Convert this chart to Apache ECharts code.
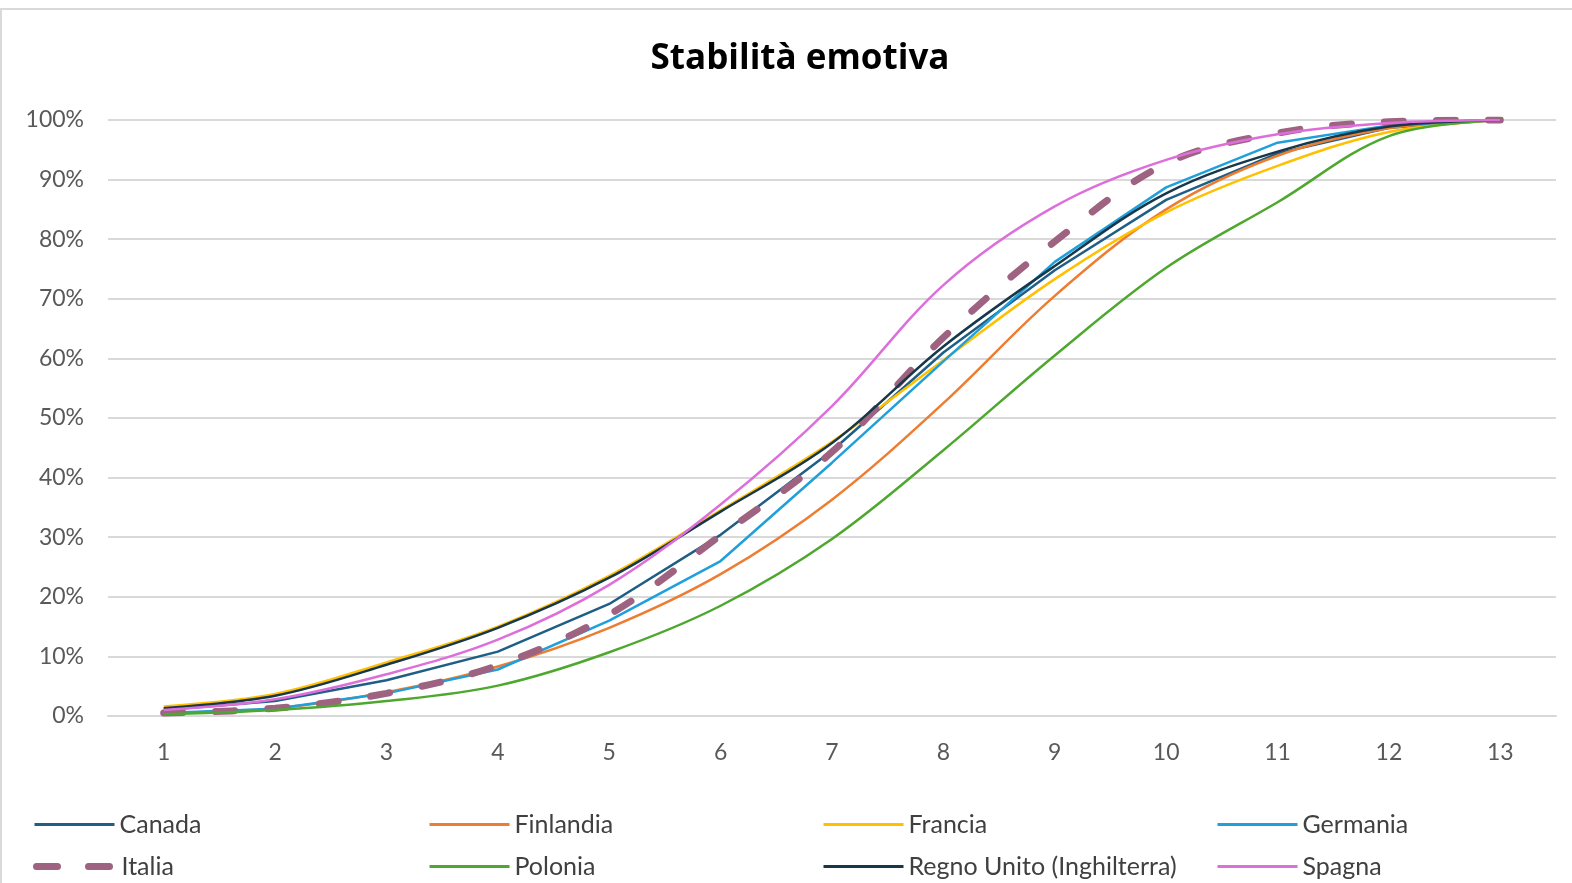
<!DOCTYPE html>
<html>
<head>
<meta charset="utf-8">
<script src="https://cdn.jsdelivr.net/npm/echarts@6/dist/echarts.min.js"></script>
<style>
html,body{margin:0;padding:0;background:#fff;}
#c{width:1572px;height:883px;}
</style>
</head>
<body>
<div id="c"></div>
<script>
const categories = ['1','2','3','4','5','6','7','8','9','10','11','12','13'];
const canada    = [1.0, 2.5, 6.0, 10.8, 18.8, 30.4, 44.5, 61.0, 74.8, 86.6, 94.4, 98.7, 100];
const finlandia = [0.5, 1.3, 4.0, 8.3, 14.8, 23.8, 36.3, 52.5, 70.5, 85.0, 94.0, 98.6, 100];
const francia   = [1.6, 3.7, 9.0, 15.0, 23.5, 34.5, 46.0, 59.7, 73.3, 84.5, 92.3, 98.0, 100];
const germania  = [0.5, 1.2, 3.8, 7.8, 16.0, 26.0, 42.5, 59.5, 76.2, 88.7, 96.2, 99.1, 100];
const italia    = [0.5, 1.3, 3.8, 8.5, 17.0, 30.3, 44.3, 63.5, 79.6, 92.7, 97.8, 99.7, 100];
const polonia   = [0.3, 1.0, 2.5, 5.1, 10.7, 18.5, 29.7, 44.6, 60.5, 75.2, 86.2, 97.3, 100];
const regnoUnito= [1.3, 3.4, 8.6, 14.8, 23.2, 34.3, 45.8, 62.0, 75.5, 87.7, 94.7, 98.9, 100];
const spagna    = [1.0, 2.8, 7.0, 12.8, 22.0, 35.5, 52.0, 72.3, 85.5, 93.3, 97.6, 99.5, 100];

const names = ['Canada','Finlandia','Francia','Germania','Italia','Polonia','Regno Unito (Inghilterra)','Spagna'];
const values = [canada, finlandia, francia, germania, italia, polonia, regnoUnito, spagna];
const colors = ['#1F5F85','#ED7D31','#FFC000','#1FA0DA','#9E6381','#4EA72E','#17374B','#DD6FDB'];
const smoothFlags = [false, true, true, false, true, true, true, true];

const FONT = 'Lato';
const legendPos = [[33,812],[428,812],[822,812],[1216,812],[33,854],[428,854],[822,854],[1216,854]];

const series = names.map((n,i)=>({
  name:n,
  type:'line',
  data:values[i],
  smooth: smoothFlags[i] ? 0.35 : false,
  symbol:'none',
  z: 2 + i,
  lineStyle: i===4
    ? {color:colors[i], width:7, type:[19,33], cap:'round'}
    : {color:colors[i], width:2.5},
  itemStyle:{color:colors[i]}
}));

const legends = names.map((n,i)=>({
  data:[n],
  left:legendPos[i][0],
  top:legendPos[i][1],
  padding:0,
  itemWidth:80,
  itemHeight:14,
  itemGap:0,
  itemStyle:{opacity:0},
  lineStyle: i===4
    ? {width:7, type:[21,31], cap:'round', color:colors[i]}
    : {width:3, color:colors[i]},
  textStyle:{fontFamily:FONT, fontSize:25, color:'#404040'}
}));

const chart = echarts.init(document.getElementById('c'));
chart.setOption({
  animation:false,
  backgroundColor:'#fff',
  color:colors,
  title:{
    text:'Stabilità emotiva',
    left:795,
    textAlign:'center',
    top:37,
    textStyle:{fontFamily:'Open Sans', fontSize:35, fontWeight:'bold', color:'#000'}
  },
  graphic:[{
    type:'rect',
    shape:{x:1,y:9,width:1600,height:900},
    style:{fill:null, stroke:'#d9d9d9', lineWidth:2},
    silent:true, z:-1
  }],
  legend:legends,
  grid:{left:108, right:16, top:120, bottom:167, containLabel:false},
  xAxis:{
    type:'category',
    data:categories,
    boundaryGap:true,
    axisLine:{show:true, lineStyle:{color:'#d9d9d9', width:2}},
    axisTick:{show:false},
    axisLabel:{fontFamily:FONT, fontSize:23, color:'#595959', margin:25}
  },
  yAxis:{
    type:'value',
    min:0, max:100, interval:10,
    axisLine:{show:false},
    axisTick:{show:false},
    splitLine:{lineStyle:{color:'#d9d9d9', width:2}},
    axisLabel:{fontFamily:FONT, fontSize:23, color:'#595959', margin:24, formatter:'{value}%'}
  },
  series:series
});
</script>
</body>
</html>
